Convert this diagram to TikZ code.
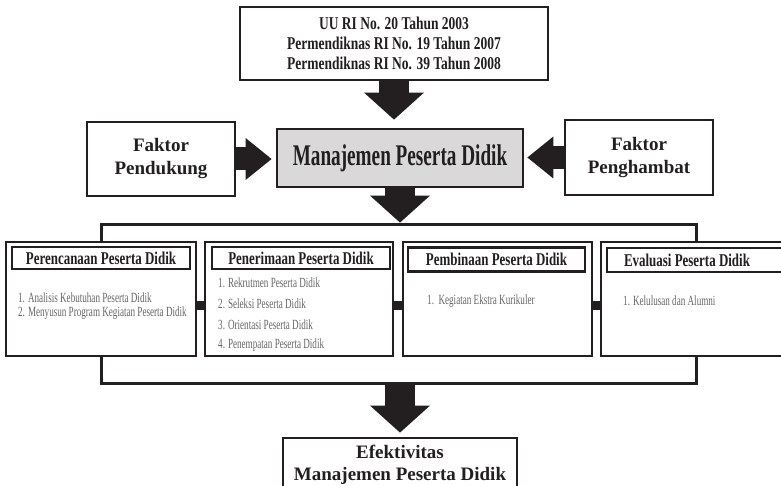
\documentclass[tikz,border=0pt]{standalone}
\usepackage{fontspec}
\setmainfont{Liberation Serif}
\newfontfamily\ftop[FakeStretch=0.75]{Liberation Serif}
\newfontfamily\fmain[FakeStretch=0.64]{Liberation Serif}
\newfontfamily\ftitle[FakeStretch=0.72]{Liberation Serif}
\newfontfamily\fitem[FakeStretch=0.65]{Liberation Serif}
\usetikzlibrary{arrows.meta,calc}
\definecolor{ink}{HTML}{231F20}
\definecolor{boxgray}{HTML}{D9D9D9}
\definecolor{itemgray}{HTML}{666666}
\begin{document}
\begin{tikzpicture}[x=1pt,y=-1pt,
  box/.style={draw=ink,line width=2.8pt,fill=white,inner sep=0pt,align=center,text=ink},
  titlebox/.style={draw=ink,line width=2.6pt,fill=white,inner sep=0pt,minimum height=22pt,text=ink,
    font=\ftitle\bfseries\fontsize{18}{20}\selectfont},
  item/.style={anchor=west,inner sep=0pt,text=itemgray,font=\fitem\fontsize{14}{16}\selectfont},
  bigarrow/.style={draw=ink,line width=30pt,-{Triangle[width=60pt,length=27pt,line width=0pt]}},
  sidearrow/.style={draw=ink,line width=23pt,-{Triangle[width=42pt,length=26pt,line width=0pt]}},
  bracket/.style={draw=ink,line width=3pt},
  stub/.style={draw=ink,line width=9pt}]
\useasboundingbox (0,0) rectangle (781,486);
\clip (0,0) rectangle (781,486);

% top legal basis box
\node[box,minimum width=308pt,minimum height=73pt,
  font=\ftop\bfseries\fontsize{18}{20}\selectfont] (top) at (394,43.5)
  {UU RI No. 20 Tahun 2003\\Permendiknas RI No. 19 Tahun 2007\\Permendiknas RI No. 39 Tahun 2008};

% centre
\node[box,fill=boxgray,minimum width=246pt,minimum height=58pt,
  font=\fmain\bfseries\fontsize{30}{32}\selectfont] (center) at (400,158) {Manajemen Peserta Didik};

\node[box,minimum width=148pt,minimum height=74pt,
  font=\bfseries\fontsize{19}{23}\selectfont] (pend) at (161,159) {Faktor\\Pendukung};
\node[box,minimum width=148pt,minimum height=75pt,
  font=\bfseries\fontsize{19}{23}\selectfont] (hamb) at (639,157.5) {Faktor\\Penghambat};

% four process boxes
\node[box,minimum width=190pt,minimum height=114pt] (b1) at (101,299) {};
\node[box,minimum width=188pt,minimum height=114pt] (b2) at (299,299) {};
\node[box,minimum width=189pt,minimum height=114pt] (b3) at (497.5,299) {};
\node[box,minimum width=190pt,minimum height=114pt] (b4) at (696,299) {};

\node[titlebox,minimum width=178pt] (b1t) at (101,258) {Perencanaan Peserta Didik};
\node[titlebox,minimum width=178pt] (b2t) at (301,258) {Penerimaan Peserta Didik};
\node[titlebox,minimum width=177pt,minimum height=24pt] (b3t) at (496.5,259.5) {Pembinaan Peserta Didik};
\node[titlebox,minimum width=178pt,minimum height=24pt] (b4t) at (696,260) {};
\node[inner sep=0pt,text=ink,font=\ftitle\bfseries\fontsize{18}{20}\selectfont] (b4tt) at (687,260) {Evaluasi Peserta Didik};

\node[item] (b1i1) at (18,298) {1. Analisis Kebutuhan Peserta Didik};
\node[item] (b1i2) at (18,313) {2. Menyusun Program Kegiatan Peserta Didik};
\node[item] (b2i1) at (218,283) {1. Rekrutmen Peserta Didik};
\node[item] (b2i2) at (218,304) {2. Seleksi Peserta Didik};
\node[item] (b2i3) at (218,324.5) {3. Orientasi Peserta Didik};
\node[item] (b2i4) at (218,345) {4. Penempatan Peserta Didik};
\node[item] (b3i1) at (427,301) {1.\ \ Kegiatan Ekstra Kurikuler};
\node[item] (b4i1) at (623,301) {1. Kelulusan dan Alumni};

% result box
\node[box,minimum width=234pt,minimum height=56pt] (eff) at (400,466) {};
\node[inner sep=0pt,align=center,text=ink,font=\bfseries\fontsize{19}{22}\selectfont] (efftext) at (400,464.5)
  {Efektivitas\\Manajemen Peserta Didik};

% brackets
\draw[bracket] (b1.north) -- ++(0,-16) coordinate (splitl) -| (b4.north);
\draw[bracket] (b1.south) -- ++(0,26) coordinate (joinl) -| (b4.south);
\coordinate (split) at (center.south |- splitl);
\coordinate (join) at (center.south |- joinl);

% stubs between boxes
\draw[stub] ([yshift=-6pt]b1.east) -- ([yshift=-6pt]b2.west);
\draw[stub] ([yshift=-6pt]b2.east) -- ([yshift=-6pt]b3.west);
\draw[stub] ([yshift=-6pt]b3.east) -- ([yshift=-6pt]b4.west);

% block arrows
\draw[bigarrow,shorten >=8pt] (top.south) -- (top.south |- center.north);
\draw[bigarrow,shorten >=2pt] (center.south) -- (split);
\draw[bigarrow,shorten >=4pt] (join) -- (eff.north);
\draw[sidearrow,shorten >=4pt] (pend.east) -- (pend.east -| center.west);
\draw[sidearrow,shorten >=3pt] (hamb.west) -- (hamb.west -| center.east);
\end{tikzpicture}
\end{document}
